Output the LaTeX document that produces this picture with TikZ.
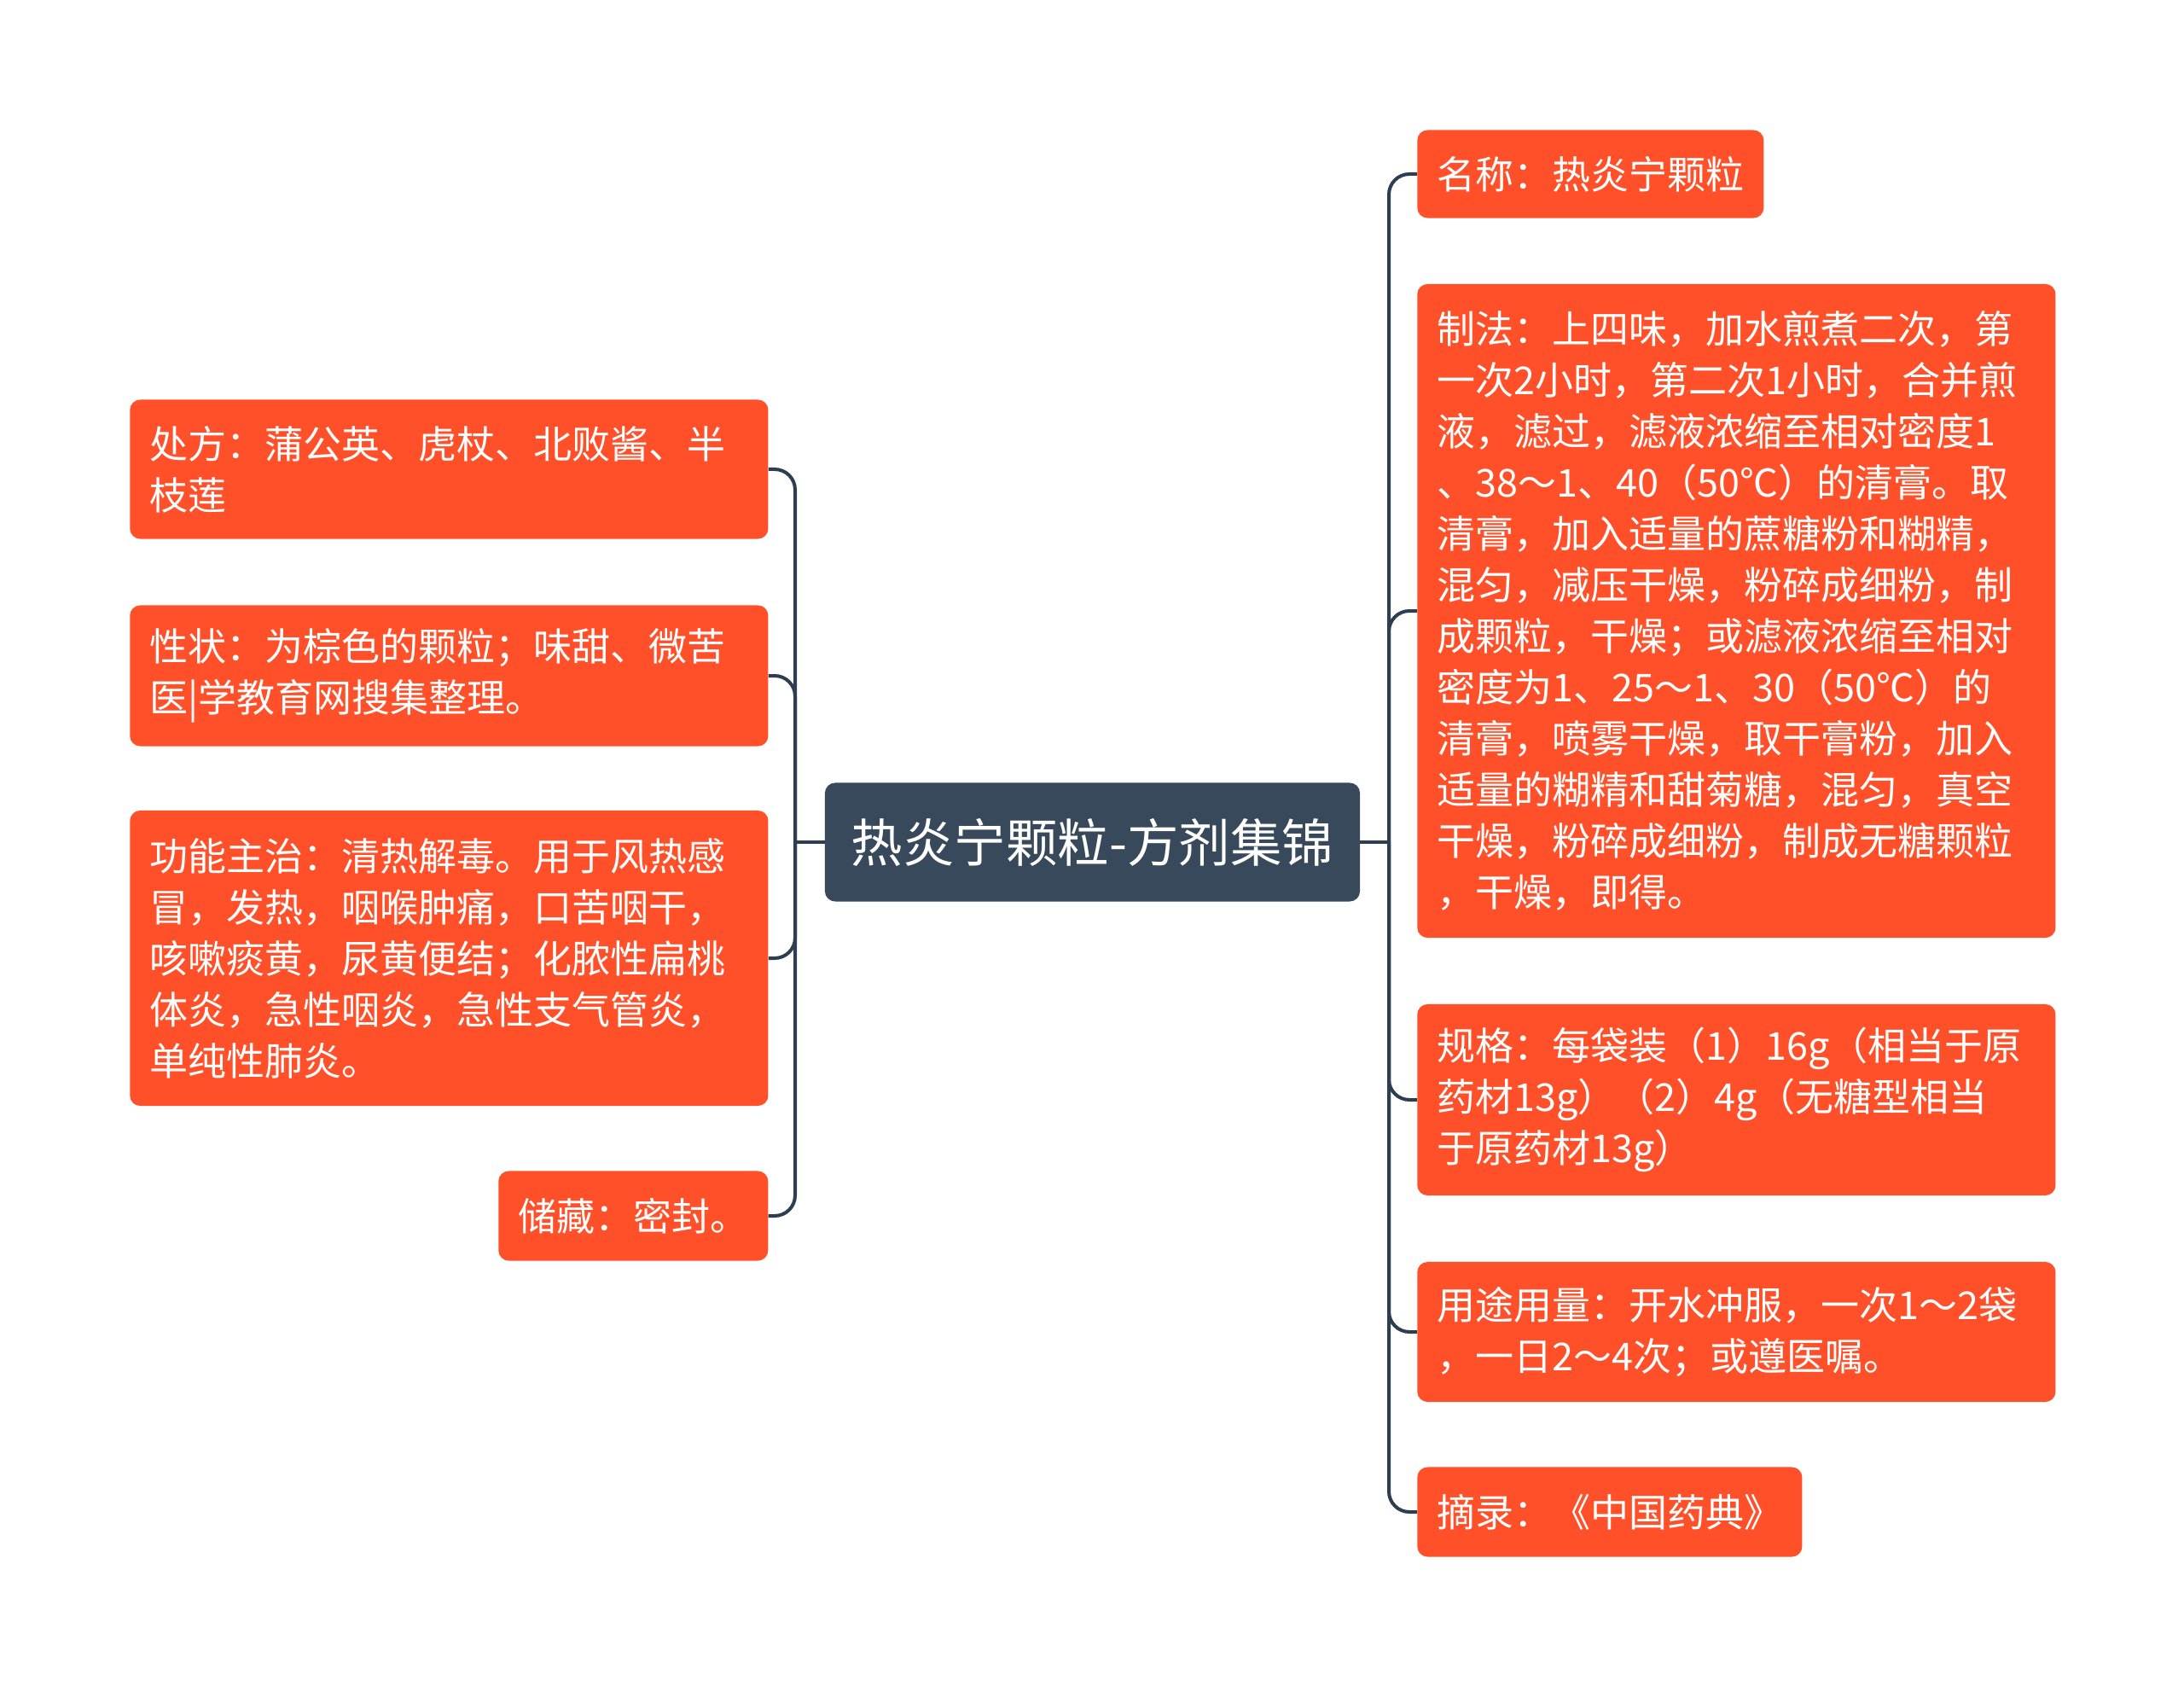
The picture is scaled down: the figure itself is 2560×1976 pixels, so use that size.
\documentclass[tikz,border=0pt]{standalone}
\usepackage{fontspec}
\newfontfamily\cjk{Noto Sans CJK SC}
\definecolor{leafc}{HTML}{FF5029}
\definecolor{rootc}{HTML}{37495A}
\definecolor{linkc}{HTML}{2C3E50}

\begin{document}
\begin{tikzpicture}[x=0.025cm, y=-0.025cm,
        leaf/.style={fill=leafc, text=white, rounded corners=0.3cm, anchor=west,
            inner xsep=0.575cm, inner ysep=0pt, align=left,
            font=\cjk\fontsize{32pt}{42.7pt}\selectfont},
        root/.style={fill=rootc, text=white, rounded corners=0.3cm, inner sep=0pt,
            minimum width=15.675cm, minimum height=3.475cm,
            font=\cjk\fontsize{43pt}{50pt}\selectfont},
        link/.style={draw=linkc, line width=0.1cm, rounded corners=0.6cm}]

        \fill[white] (0,0) rectangle (2560,1976);

        % kořen
        \node[root] (root) at (1280.5,987) {热炎宁颗粒-方剂集锦};

        % levá strana
        \node[leaf, text width=17.55cm, minimum height=4.075cm] (chufang) at (152,550)
            {处方：蒲公英、虎杖、北败酱、半\\枝莲};
        \node[leaf, text width=17.55cm, minimum height=4.125cm] (xingzhuang) at (152,792)
            {性状：为棕色的颗粒；味甜、微苦\\医|学教育网搜集整理。};
        \node[leaf, text width=17.55cm, minimum height=8.65cm] (gongneng) at (152,1123)
            {功能主治：清热解毒。用于风热感\\冒，发热，咽喉肿痛，口苦咽干，\\咳嗽痰黄，尿黄便结；化脓性扁桃\\体炎，急性咽炎，急性支气管炎，\\单纯性肺炎。};
        \node[leaf, text width=6.75cm, minimum height=2.625cm] (chucang) at (584,1425)
            {储藏：密封。};

        % pravá strana
        \node[leaf, text width=9cm, minimum height=2.575cm] (mingcheng) at (1661,204)
            {名称：热炎宁颗粒};
        \node[leaf, text width=17.55cm, minimum height=19.15cm] (zhifa) at (1661,716)
            {制法：上四味，加水煎煮二次，第\\一次2小时，第二次1小时，合并煎\\液，滤过，滤液浓缩至相对密度1\\、38～1、40（50℃）的清膏。取\\清膏，加入适量的蔗糖粉和糊精，\\混匀，减压干燥，粉碎成细粉，制\\成颗粒，干燥；或滤液浓缩至相对\\密度为1、25～1、30（50℃）的\\清膏，喷雾干燥，取干膏粉，加入\\适量的糊精和甜菊糖，混匀，真空\\干燥，粉碎成细粉，制成无糖颗粒\\，干燥，即得。};
        \node[leaf, text width=17.55cm, minimum height=5.6cm] (guige) at (1661,1289)
            {规格：每袋装（1）16g（相当于原\\药材13g）（2）4g（无糖型相当\\于原药材13g）};
        \node[leaf, text width=17.55cm, minimum height=4.1cm] (yongtu) at (1661,1561)
            {用途用量：开水冲服，一次1～2袋\\，一日2～4次；或遵医嘱。};
        \node[leaf, text width=10.125cm, minimum height=2.625cm] (zhailu) at (1661,1772)
            {摘录：《中国药典》};

        % spojnice
        \coordinate (lj) at (932,987);
        \coordinate (rj) at (1628,987);
        \draw[link] (root.west) -- (lj);
        \draw[link] (root.east) -- (rj);
        \foreach \n in {chufang, xingzhuang, gongneng, chucang}
            \draw[link] (lj) |- (\n.east);
        \foreach \n in {mingcheng, zhifa, guige, yongtu, zhailu}
            \draw[link] (rj) |- (\n.west);
\end{tikzpicture}
\end{document}
